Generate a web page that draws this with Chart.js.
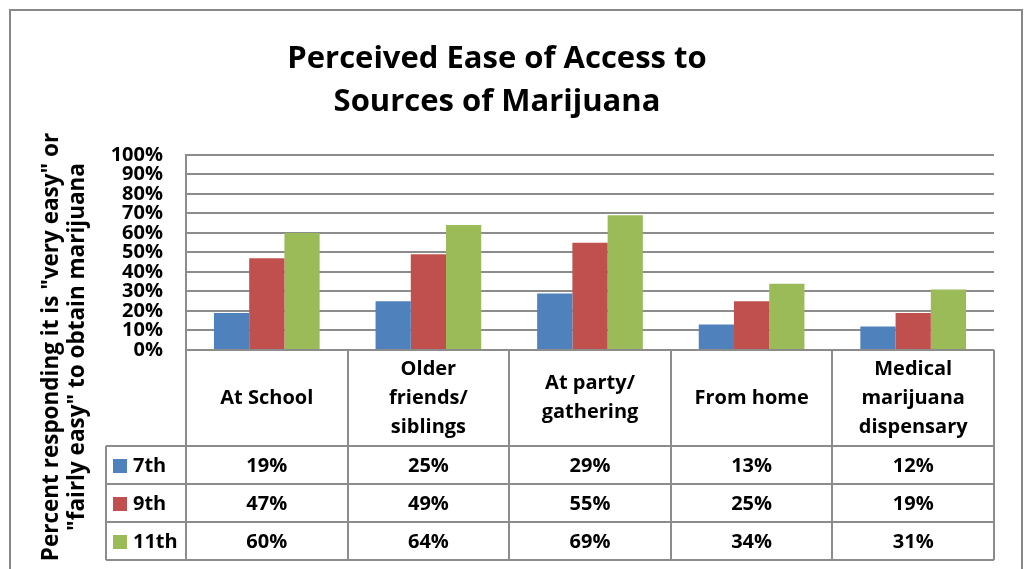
<!DOCTYPE html>
<html>
<head>
<meta charset="utf-8">
<script src="https://cdn.jsdelivr.net/npm/chart.js@4.4.0/dist/chart.umd.min.js"></script>
<style>
  html, body { margin: 0; padding: 0; background: #fff; }
  canvas { display: block; }
</style>
</head>
<body>
<canvas id="accessChart" width="1027" height="569"></canvas>
<script>
// Data
const categories = [
    ['At School'],
    ['Older', 'friends/', 'siblings'],
    ['At party/', 'gathering'],
    ['From home'],
    ['Medical', 'marijuana', 'dispensary']
];
const grades = ['7th', '9th', '11th'];
const grade7 = [19, 25, 29, 13, 12];
const grade9 = [47, 49, 55, 25, 19];
const grade11 = [60, 64, 69, 34, 31];
const gradeColors = ['#4F81BD', '#C0504D', '#9BBB59'];
const yTicks = { min: 0, max: 100, step: 10 };

const chartTitle = ['Perceived Ease of Access to', 'Sources of Marijuana'];
const yTitle = ['Percent responding it is "very easy" or', '"fairly easy" to obtain marijuana'];

const FONT = "'Open Sans', 'Liberation Sans', sans-serif";
const LINE = '#8c8c8c';

// Frame, y-axis title and data table under the plot
const tablePlugin = {
    id: 'dataTable',
    beforeDraw(chart) {
        const ctx = chart.ctx;
        ctx.save();
        ctx.fillStyle = '#fff';
        ctx.fillRect(0, 0, chart.width, chart.height);
        ctx.strokeStyle = '#888';
        ctx.lineWidth = 2;
        ctx.strokeRect(10, 10, 1012, 580);
        ctx.restore();
    },
    afterDraw(chart) {
        const ctx = chart.ctx;
        const area = chart.chartArea;
        const xs = chart.scales.x;
        const n = chart.data.labels.length;
        const headTop = area.bottom;
        const headBottom = 446;
        const rowH = 38;
        const legendLeft = 106;
        const tableBottom = headBottom + rowH * chart.data.datasets.length;

        ctx.save();
        // y axis title (two lines, rotated)
        ctx.fillStyle = '#000';
        ctx.font = 'bold 22.5px ' + FONT;
        ctx.textAlign = 'center';
        ctx.textBaseline = 'alphabetic';
        [58, 84].forEach((bx, i) => {
            ctx.save();
            ctx.translate(bx, 347);
            ctx.rotate(-Math.PI / 2);
            ctx.fillText(yTitle[i], 0, 0);
            ctx.restore();
        });

        // grid lines of the table
        ctx.strokeStyle = LINE;
        ctx.lineWidth = 2;
        ctx.beginPath();
        for (let i = 0; i <= n; i++) {
            const x = Math.round(xs.getPixelForValue(i - 0.5));
            ctx.moveTo(x, headTop);
            ctx.lineTo(x, tableBottom);
        }
        for (let r = 0; r <= chart.data.datasets.length; r++) {
            const y = headBottom + r * rowH;
            ctx.moveTo(legendLeft, y);
            ctx.lineTo(Math.round(xs.getPixelForValue(n - 0.5)), y);
        }
        ctx.moveTo(legendLeft, headBottom);
        ctx.lineTo(legendLeft, tableBottom);
        ctx.stroke();

        // header: category names
        ctx.font = 'bold 20px ' + FONT;
        ctx.textAlign = 'center';
        ctx.textBaseline = 'middle';
        const lh = 29;
        chart.data.labels.forEach((lab, i) => {
            const lines = Array.isArray(lab) ? lab : [lab];
            const cx = xs.getPixelForValue(i);
            const cy = (headTop + headBottom) / 2;
            lines.forEach((t, k) => {
                ctx.fillText(t, cx, cy + (k - (lines.length - 1) / 2) * lh);
            });
        });

        // rows: legend key + values
        chart.data.datasets.forEach((ds, r) => {
            const cy = headBottom + r * rowH + rowH / 2 + 1;
            ctx.fillStyle = ds.backgroundColor;
            ctx.fillRect(113, Math.round(cy - 7), 14, 14);
            ctx.fillStyle = '#000';
            ctx.textAlign = 'left';
            ctx.fillText(ds.label, 133, cy);
            ctx.textAlign = 'center';
            ds.data.forEach((v, i) => {
                ctx.fillText(v + '%', xs.getPixelForValue(i), cy);
            });
        });
        ctx.restore();
    }
};

const ctx = document.getElementById('accessChart').getContext('2d');
const accessChart = new Chart(ctx, {
    type: 'bar',
    data: {
        labels: categories,
        datasets: [grade7, grade9, grade11].map((d, i) => ({
            label: grades[i],
            data: d,
            backgroundColor: gradeColors[i],
            borderWidth: 0,
            categoryPercentage: 0.654,
            barPercentage: 1
        }))
    },
    options: {
        responsive: false,
        animation: false,
        devicePixelRatio: 1,
        layout: { padding: { left: 0, right: 33, top: 0, bottom: 219 } },
        plugins: {
            legend: { display: false },
            tooltip: { enabled: false },
            title: {
                display: true,
                text: chartTitle,
                color: '#000',
                font: { family: FONT, size: 31, weight: 'bold', lineHeight: 1.4 },
                padding: { top: 37, bottom: 31 }
            }
        },
        scales: {
            x: { display: false },
            y: {
                min: yTicks.min,
                max: yTicks.max,
                ticks: {
                    stepSize: yTicks.step,
                    autoSkip: false,
                    color: '#000',
                    padding: 23,
                    font: { family: FONT, size: 20, weight: 'bold', lineHeight: 1 },
                    callback: v => v + '%'
                },
                grid: { color: LINE, lineWidth: 2, drawTicks: false },
                border: { color: LINE, width: 2 },
                afterFit(scale) {
                    scale.width = 186;
                    scale.paddingTop = 0;
                    scale.paddingBottom = 0;
                }
            }
        }
    },
    plugins: [tablePlugin]
});
</script>
</body>
</html>
